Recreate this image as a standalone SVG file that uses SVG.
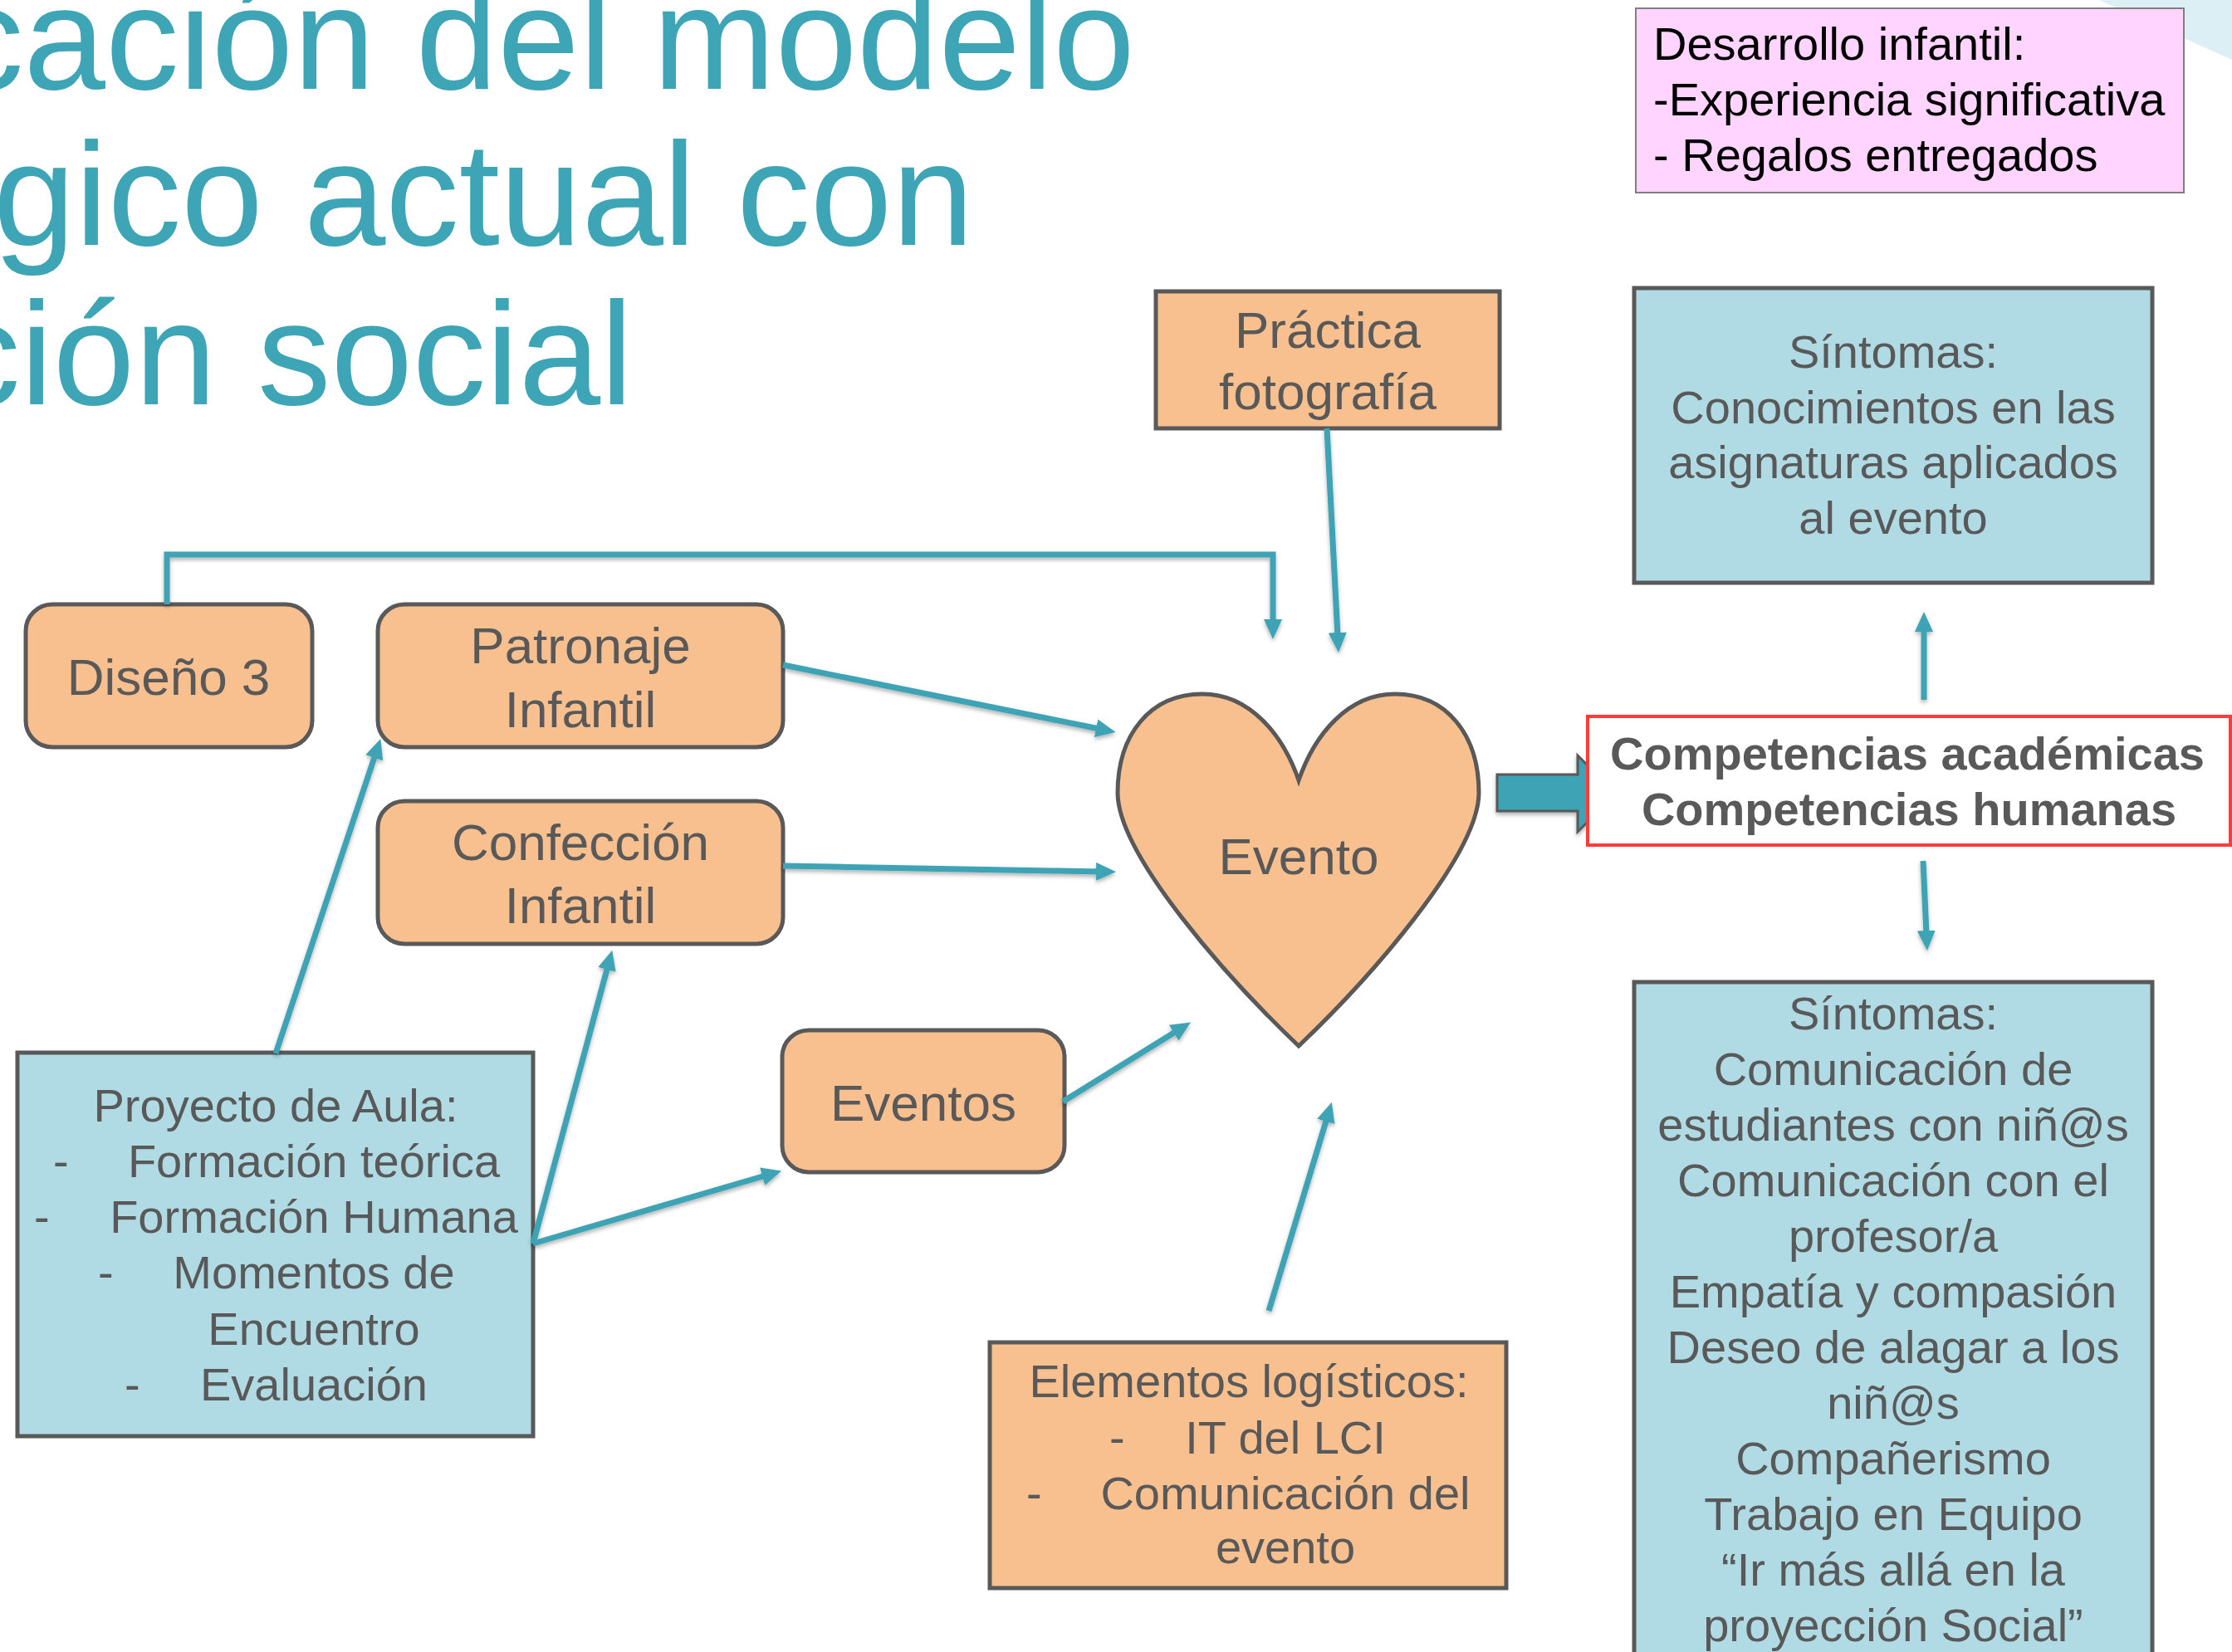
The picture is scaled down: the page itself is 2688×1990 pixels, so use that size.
<svg xmlns="http://www.w3.org/2000/svg" width="2688" height="1990" viewBox="0 0 2688 1990">
<defs>
<style>
.t{font-family:"Liberation Sans",Arial,sans-serif;fill:#595959;text-anchor:middle}
.l{text-anchor:start}
.big{font-size:62px}
.med{font-size:56px}
.title{font-family:"Liberation Sans",Arial,sans-serif;fill:#3DA5B5;font-size:177px}
.peach{fill:#F9C08F;stroke:#595959;stroke-width:5}
.blue{fill:#B0DBE4;stroke:#595959;stroke-width:5}
.conn{fill:none;stroke:#3CA3B5;stroke-width:7;marker-end:url(#ah)}
</style>
<marker id="ah" markerUnits="userSpaceOnUse" markerWidth="24" markerHeight="22" refX="4" refY="11" orient="auto">
<path d="M0,0 L24,11 L0,22 z" fill="#3CA3B5"/>
</marker>
<filter id="sh" x="-10%" y="-10%" width="120%" height="130%">
<feDropShadow dx="0" dy="3" stdDeviation="2.5" flood-color="#000" flood-opacity="0.3"/>
</filter>
</defs>
<rect x="0" y="0" width="2688" height="1990" fill="#FFFFFF"/>
<polygon points="2528,0 2688,0 2688,72" fill="#DCEFF4"/>

<g id="title">
<text class="title" x="-60" y="107">cación del modelo</text>
<text class="title" x="-8" y="295">gico actual con</text>
<text class="title" x="-64" y="487">ción social</text>
</g>

<g id="desarrollo">
<rect x="1970" y="10" width="660" height="222" fill="#FFD5FF" stroke="#7F7F7F" stroke-width="2"/>
<text class="t l med" style="fill:#000" x="1991" y="72">Desarrollo infantil:</text>
<text class="t l med" style="fill:#000" x="1991" y="139">-Experiencia significativa</text>
<text class="t l med" style="fill:#000" x="1991" y="206">- Regalos entregados</text>
</g>

<g id="sintomas1">
<rect class="blue" x="1968" y="347" width="624" height="355"/>
<text class="t med" x="2280" y="443">Síntomas:</text>
<text class="t med" x="2280" y="510">Conocimientos en las</text>
<text class="t med" x="2280" y="576">asignaturas aplicados</text>
<text class="t med" x="2280" y="643">al evento</text>
</g>

<g id="practica">
<rect class="peach" x="1392" y="351" width="414" height="165"/>
<text class="t big" x="1599" y="419">Práctica</text>
<text class="t big" x="1599" y="493">fotografía</text>
</g>

<g id="diseno3">
<rect class="peach" x="31" y="728" width="345" height="172" rx="32"/>
<text class="t big" x="203" y="837">Diseño 3</text>
</g>

<g id="patronaje">
<rect class="peach" x="455" y="728" width="488" height="172" rx="32"/>
<text class="t big" x="699" y="799">Patronaje</text>
<text class="t big" x="699" y="876">Infantil</text>
</g>

<g id="confeccion">
<rect class="peach" x="455" y="965" width="488" height="172" rx="32"/>
<text class="t big" x="699" y="1036">Confección</text>
<text class="t big" x="699" y="1112">Infantil</text>
</g>

<g id="eventos">
<rect class="peach" x="942" y="1241" width="340" height="171" rx="32"/>
<text class="t big" x="1112" y="1350">Eventos</text>
</g>

<g id="proyecto">
<rect class="blue" x="21" y="1268" width="621" height="462"/>
<text class="t med" x="332" y="1351">Proyecto de Aula:</text>
<text class="t l med" x="64" y="1418">-</text>
<text class="t med" x="378" y="1418">Formación teórica</text>
<text class="t l med" x="41" y="1485">-</text>
<text class="t med" x="378" y="1485">Formación Humana</text>
<text class="t l med" x="118" y="1552">-</text>
<text class="t med" x="378" y="1552">Momentos de</text>
<text class="t med" x="378" y="1620">Encuentro</text>
<text class="t l med" x="150" y="1687">-</text>
<text class="t med" x="378" y="1687">Evaluación</text>
</g>

<g id="evento">
<path class="peach" stroke-width="4" d="M1564,940 C1545,885 1505,836 1448,836 C1385,836 1346,885 1346,955 C1346,1030 1480,1180 1564,1260 C1648,1180 1781,1030 1781,955 C1781,885 1742,836 1680,836 C1623,836 1583,885 1564,940 Z"/>
<text class="t big" x="1564" y="1053">Evento</text>
</g>

<g id="elementos">
<rect class="peach" x="1192" y="1617" width="622" height="296"/>
<text class="t med" x="1504" y="1683">Elementos logísticos:</text>
<text class="t l med" x="1336" y="1751">-</text>
<text class="t med" x="1548" y="1751">IT del LCI</text>
<text class="t l med" x="1236" y="1818">-</text>
<text class="t med" x="1548" y="1818">Comunicación del</text>
<text class="t med" x="1548" y="1883">evento</text>
</g>

<g id="sintomas2">
<rect class="blue" x="1968" y="1183" width="624" height="830"/>
<text class="t med" x="2280" y="1240">Síntomas:</text>
<text class="t med" x="2280" y="1307">Comunicación de</text>
<text class="t med" x="2280" y="1374">estudiantes con niñ@s</text>
<text class="t med" x="2280" y="1441">Comunicación con el</text>
<text class="t med" x="2280" y="1508">profesor/a</text>
<text class="t med" x="2280" y="1575">Empatía y compasión</text>
<text class="t med" x="2280" y="1642">Deseo de alagar a los</text>
<text class="t med" x="2280" y="1709">niñ@s</text>
<text class="t med" x="2280" y="1776">Compañerismo</text>
<text class="t med" x="2280" y="1843">Trabajo en Equipo</text>
<text class="t med" x="2280" y="1910">“Ir más allá en la</text>
<text class="t med" x="2280" y="1977">proyección Social”</text>
</g>

<g id="connectors" filter="url(#sh)">
<polyline class="conn" points="201,728 201,668 1533,668 1533,750"/>
<line class="conn" x1="1598" y1="516" x2="1611" y2="766"/>
<line class="conn" x1="943" y1="801" x2="1324" y2="878"/>
<line class="conn" x1="943" y1="1043" x2="1324" y2="1050"/>
<line class="conn" x1="1280" y1="1327" x2="1417" y2="1242"/>
<line class="conn" x1="332" y1="1269" x2="452" y2="909"/>
<line class="conn" x1="642" y1="1498" x2="732" y2="1164"/>
<line class="conn" x1="642" y1="1498" x2="922" y2="1416"/>
<line class="conn" x1="1528" y1="1579" x2="1598" y2="1347"/>
<line class="conn" x1="2317" y1="843" x2="2317" y2="757"/>
<line class="conn" x1="2316" y1="1037" x2="2320" y2="1125"/>
<path d="M1803,933 L1900,933 L1900,910 L1946,956 L1900,1002 L1900,977 L1803,977 Z" fill="#3CA3B5" stroke="#595959" stroke-width="3"/>
</g>

<g id="competencias">
<rect x="1912" y="863" width="774" height="155" fill="#FFFFFF" stroke="#FF3B3B" stroke-width="4"/>
<text class="t med" style="font-weight:bold" x="2297" y="927">Competencias académicas</text>
<text class="t med" style="font-weight:bold" x="2299" y="994">Competencias humanas</text>
</g>
</svg>
